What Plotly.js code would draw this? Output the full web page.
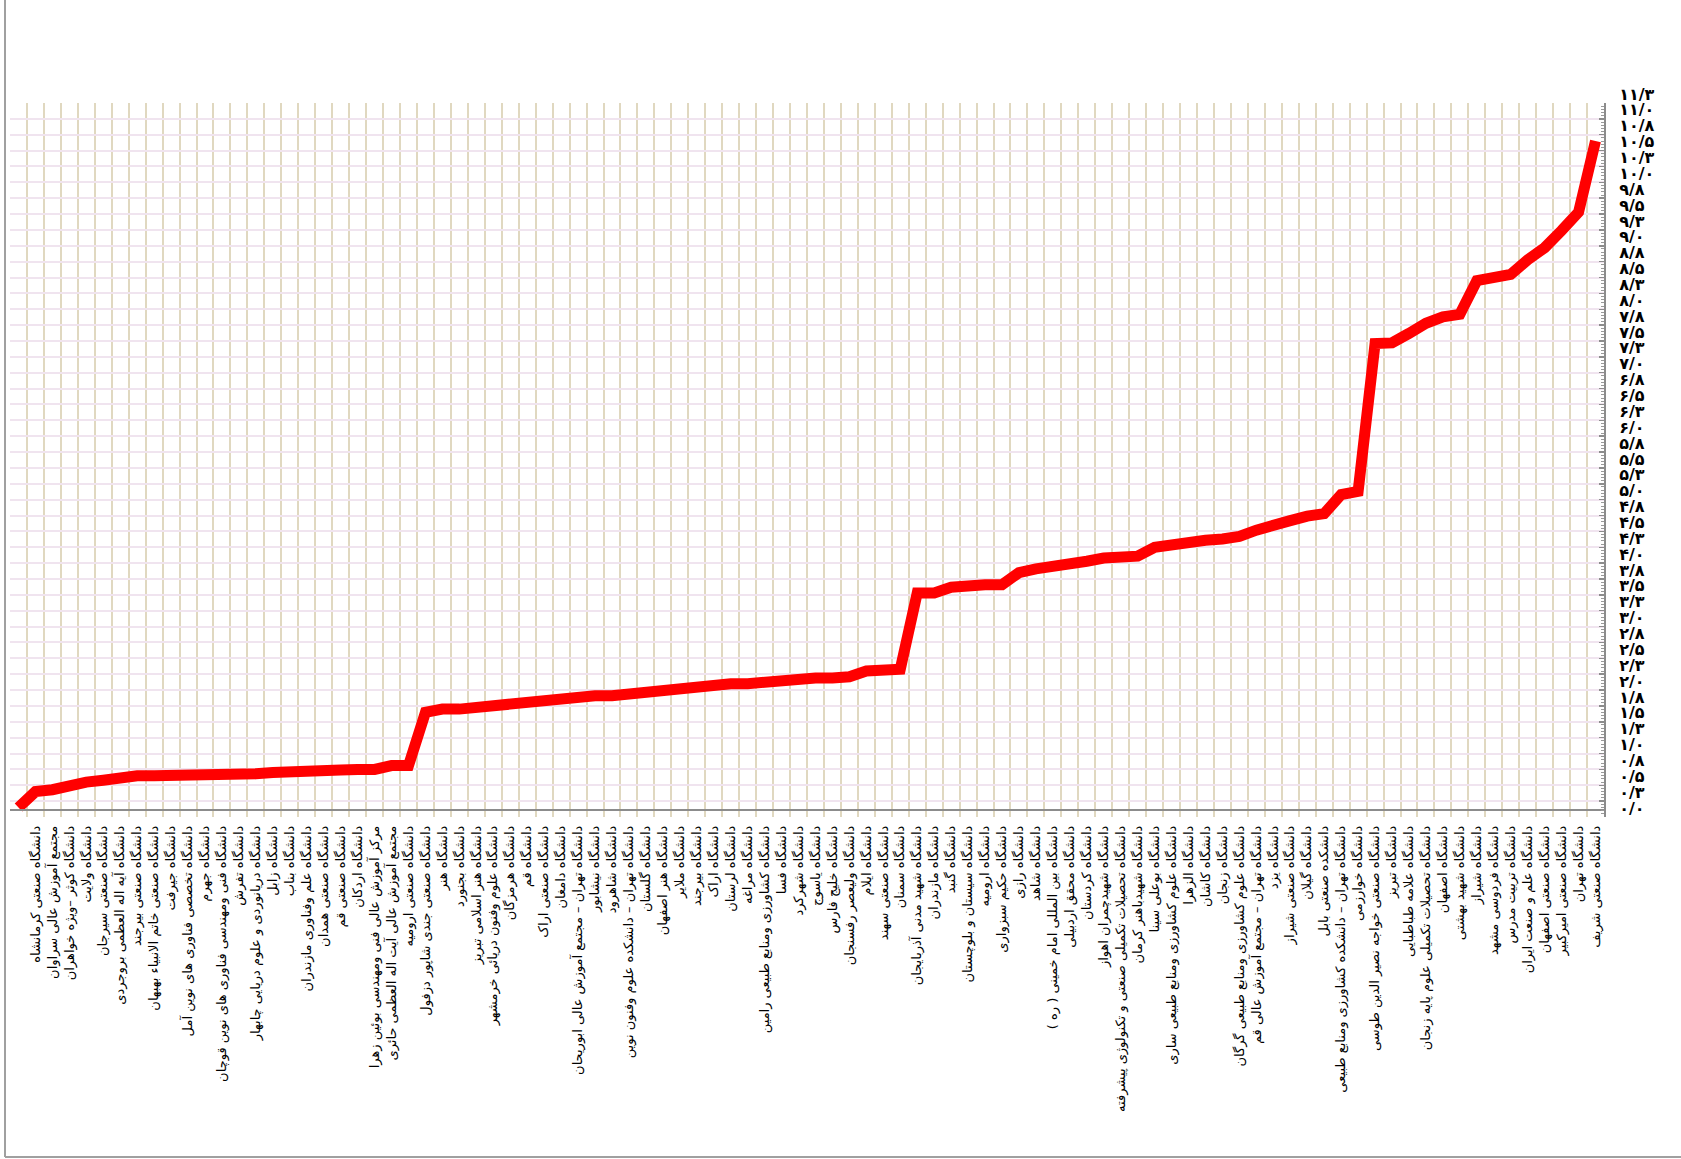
<!DOCTYPE html>
<html>
<head>
<meta charset="utf-8">
<script src="https://cdn.plot.ly/plotly-3.0.1.min.js"></script>
<style>
html,body{margin:0;padding:0;background:#fff;}
#chart{width:1681px;height:1159px;}
</style>
</head>
<body>
<div id="chart"></div>
<script>
// ---- data ----
const universities = [
  " ",
  "دانشگاه صنعتی کرمانشاه",
  "مجتمع آموزش عالی سراوان",
  "دانشگاه کوثر –ویژه خواهران",
  "دانشگاه ولایت",
  "دانشگاه صنعتی سیرجان",
  "دانشگاه آیه اله العظمی بروجردی",
  "دانشگاه صنعتی بیرجند",
  "دانشگاه صنعتی خاتم الانبیاء بهبهان",
  "دانشگاه جیرفت",
  "دانشگاه تخصصی فناوری های نوین آمل",
  "دانشگاه جهرم",
  "دانشگاه فنی ومهندسی فناوری های نوین قوچان",
  "دانشگاه تفرش",
  "دانشگاه دریانوردی و علوم دریایی چابهار",
  "دانشگاه زابل",
  "دانشگاه بناب",
  "دانشگاه علم وفناوری مازندران",
  "دانشگاه صنعتی همدان",
  "دانشگاه صنعتی قم",
  "دانشگاه اردکان",
  "مرکز آموزش عالی فنی ومهندسی بوئین زهرا",
  "مجتمع آموزش عالی آیت اله العظمی حائری",
  "دانشگاه صنعتی ارومیه",
  "دانشگاه صنعتی جندی شاپور دزفول",
  "دانشگاه هنر",
  "دانشگاه بجنورد",
  "دانشگاه هنر اسلامی تبریز",
  "دانشگاه علوم وفنون دریائی خرمشهر",
  "دانشگاه هرمزگان",
  "دانشگاه قم",
  "دانشگاه صنعتی اراک",
  "دانشگاه دامغان",
  "دانشگاه تهران – مجتمع آموزش عالی ابوریحان",
  "دانشگاه نیشابور",
  "دانشگاه شاهرود",
  "دانشگاه تهران – دانشکده علوم وفنون نوین",
  "دانشگاه گلستان",
  "دانشگاه هنر اصفهان",
  "دانشگاه ملایر",
  "دانشگاه بیرجند",
  "دانشگاه اراک",
  "دانشگاه لرستان",
  "دانشگاه مراغه",
  "دانشگاه کشاورزی ومنابع طبیعی رامین",
  "دانشگاه فسا",
  "دانشگاه شهرکرد",
  "دانشگاه یاسوج",
  "دانشگاه خلیج فارس",
  "دانشگاه ولیعصر رفسنجان",
  "دانشگاه ایلام",
  "دانشگاه صنعتی سهند",
  "دانشگاه سمنان",
  "دانشگاه شهید مدنی آذربایجان",
  "دانشگاه مازندران",
  "دانشگاه گنبد",
  "دانشگاه سیستان و بلوچستان",
  "دانشگاه ارومیه",
  "دانشگاه حکیم سبزواری",
  "دانشگاه رازی",
  "دانشگاه شاهد",
  "دانشگاه بین المللی امام خمینی ( ره )",
  "دانشگاه محقق اردبیلی",
  "دانشگاه کردستان",
  "دانشگاه شهیدچمران اهواز",
  "دانشگاه تحصیلات تکمیلی صنعتی و تکنولوژی پیشرفته",
  "دانشگاه شهیدباهنر کرمان",
  "دانشگاه بوعلی سینا",
  "دانشگاه علوم کشاورزی ومنابع طبیعی ساری",
  "دانشگاه الزهرا",
  "دانشگاه کاشان",
  "دانشگاه زنجان",
  "دانشگاه علوم کشاورزی ومنابع طبیعی گرگان",
  "دانشگاه تهران – مجتمع آموزش عالی قم",
  "دانشگاه یزد",
  "دانشگاه صنعتی شیراز",
  "دانشگاه گیلان",
  "دانشکده صنعتی بابل",
  "دانشگاه تهران – دانشکده کشاورزی ومنابع طبیعی",
  "دانشگاه خوارزمی",
  "دانشگاه صنعتی خواجه نصیر الدین طوسی",
  "دانشگاه تبریز",
  "دانشگاه علامه طباطبایی",
  "دانشگاه تحصیلات تکمیلی علوم پایه زنجان",
  "دانشگاه اصفهان",
  "دانشگاه شهید بهشتی",
  "دانشگاه شیراز",
  "دانشگاه فردوسی مشهد",
  "دانشگاه تربیت مدرس",
  "دانشگاه علم و صنعت ایران",
  "دانشگاه صنعتی اصفهان",
  "دانشگاه صنعتی امیرکبیر",
  "دانشگاه تهران",
  "دانشگاه صنعتی شریف"
];

const scores = [
  0.15,
  0.40, 0.43, 0.51, 0.55, 0.58, 0.63, 0.65, 0.65, 0.65, 0.65,
  0.65, 0.66, 0.68, 0.68, 0.70, 0.70, 0.70, 0.73, 0.74, 0.75,
  0.75, 0.81, 0.81, 1.65, 1.70, 1.70, 1.73, 1.73, 1.76, 1.81,
  1.81, 1.87, 1.91, 1.91, 1.91, 1.94, 1.94, 1.99, 2.03, 2.03,
  2.05, 2.10, 2.10, 2.13, 2.13, 2.16, 2.19, 2.19, 2.21, 2.30,
  2.33, 2.33, 3.53, 3.53, 3.62, 3.66, 3.66, 3.66, 3.85, 3.91,
  3.94, 3.97, 4.03, 4.08, 4.08, 4.11, 4.25, 4.30, 4.32, 4.36,
  4.38, 4.42, 4.52, 4.61, 4.67, 4.74, 4.78, 5.08, 5.13, 7.46,
  7.47, 7.62, 7.78, 7.88, 7.92, 8.45, 8.49, 8.55, 8.78, 8.97,
  9.24, 9.53, 10.65
];

const yTickText = [
  "۰/۰","۰/۳","۰/۵","۰/۸","۱/۰","۱/۳","۱/۵","۱/۸","۲/۰","۲/۳",
  "۲/۵","۲/۸","۳/۰","۳/۳","۳/۵","۳/۸","۴/۰","۴/۳","۴/۵","۴/۸",
  "۵/۰","۵/۳","۵/۵","۵/۸","۶/۰","۶/۳","۶/۵","۶/۸","۷/۰","۷/۳",
  "۷/۵","۷/۸","۸/۰","۸/۳","۸/۵","۸/۸","۹/۰","۹/۳","۹/۵","۹/۸",
  "۱۰/۰","۱۰/۳","۱۰/۵","۱۰/۸","۱۱/۰","۱۱/۳"
];
const yStep = 0.25;

// ---- layout ----
const idx = universities.map((_, i) => i);
const yTickVals = yTickText.map((_, i) => i * yStep);

const M = {l: 10, r: 77, t: 103, b: 342};
const W = 1681, H = 1159;
const pw = W - M.l - M.r, ph = H - M.t - M.b;
const px = v => (v - M.l) / pw;          // pixel x -> paper x
const py = v => (H - M.b - v) / ph;      // pixel y -> paper y

const trace = {
  type: 'scatter',
  mode: 'lines',
  x: idx,
  y: scores,
  line: {color: '#ff0000', width: 11},
  hoverinfo: 'skip'
};

const layout = {
  width: W, height: H,
  margin: M,
  paper_bgcolor: '#ffffff',
  plot_bgcolor: '#ffffff',
  showlegend: false,
  font: {family: 'DejaVu Sans, sans-serif', color: '#000'},
  xaxis: {
    type: 'linear',
    range: [-0.5, universities.length - 0.5],
    tickmode: 'array',
    tickvals: idx,
    ticktext: universities,
    tickangle: -90,
    tickfont: {size: 13, family: 'DejaVu Sans, sans-serif', color: '#000'},
    showgrid: false,
    zeroline: false,
    ticks: '',
    ticklabelstandoff: 10,
    showline: true,
    linecolor: '#8c8c8c',
    linewidth: 2,
    anchor: 'free',
    position: 0.0105,
    minor: {tickmode: 'linear', tick0: -0.5, dtick: 1, showgrid: true,
            gridcolor: '#e0d8c0', gridwidth: 2, ticks: ''}
  },
  yaxis: {
    range: [0, 11.25],
    side: 'right',
    tickmode: 'array',
    tickvals: yTickVals,
    ticktext: yTickText,
    tickfont: {size: 16, family: 'DejaVu Sans, sans-serif', color: '#000', weight: 'bold'},
    ticklabelshift: -9,
    ticklabelstandoff: 10,
    showgrid: true,
    gridcolor: '#f0e4ef',
    gridwidth: 2,
    zeroline: false,
    showline: true,
    linecolor: '#8c8c8c',
    linewidth: 2,
    ticks: 'inside',
    ticklen: 5,
    tickwidth: 1.5,
    tickcolor: '#8c8c8c',
    minor: {tickmode: 'linear', tick0: 0, dtick: 0.05, ticks: 'inside', ticklen: 3,
            tickcolor: '#9a9a9a', tickwidth: 1, showgrid: false}
  },
  shapes: [
    {type: 'line', xref: 'paper', yref: 'paper', layer: 'above',
     x0: px(5), x1: px(5), y0: py(0), y1: py(1157),
     line: {color: '#a0a0a0', width: 2}},
    {type: 'line', xref: 'paper', yref: 'paper', layer: 'above',
     x0: px(5), x1: px(1681), y0: py(1157), y1: py(1157),
     line: {color: '#a0a0a0', width: 2}}
  ]
};

Plotly.newPlot('chart', [trace], layout, {displayModeBar: false, staticPlot: true});
</script>
</body>
</html>
